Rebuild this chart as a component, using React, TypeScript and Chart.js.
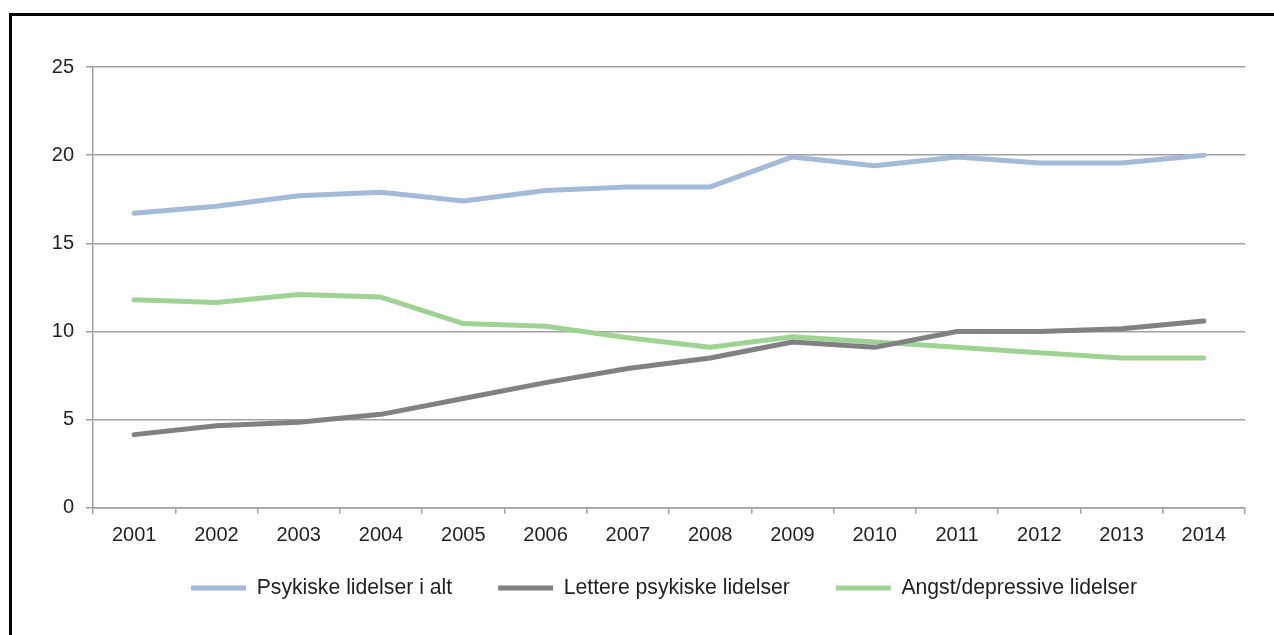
import React, { useEffect, useRef } from "react";
import { Chart, registerables } from "chart.js";

Chart.register(...registerables);

const years = ["2001", "2002", "2003", "2004", "2005", "2006", "2007", "2008", "2009", "2010", "2011", "2012", "2013", "2014"];
const psykiskeIAlt = [16.7, 17.1, 17.7, 17.9, 17.4, 18.0, 18.2, 18.2, 19.9, 19.4, 19.9, 19.55, 19.55, 20.0];
const lettere = [4.15, 4.65, 4.85, 5.3, 6.2, 7.1, 7.9, 8.5, 9.4, 9.1, 10.0, 10.0, 10.15, 10.6];
const angst = [11.8, 11.65, 12.1, 11.95, 10.45, 10.3, 9.65, 9.1, 9.7, 9.4, 9.1, 8.8, 8.5, 8.5];
const seriesNames = ["Psykiske lidelser i alt", "Lettere psykiske lidelser", "Angst/depressive lidelser"];
const seriesColors = ["#a3bbd9", "#808184", "#9fd393"];
const yMin = 0;
const yMax = 25;
const yStep = 5;

const FONT = "'Liberation Sans', Arial, sans-serif";

// Moves the legend box so it is centred like the original (spacing between items
// needs a wide label padding, which would otherwise push the plot upward).
const legendPlacer = {
  id: "legendPlacer",
  afterLayout(chart: any) {
    const lg = chart.legend;
    if (!lg) return;
    const h = lg.height;
    lg.left = 83;
    lg.right = 1245;
    lg.top = 531.5;
    lg.bottom = 531.5 + h;
  },
};

export default function App() {
  const ref = useRef<HTMLCanvasElement | null>(null);
  useEffect(() => {
    if (!ref.current) return;
    const data = [psykiskeIAlt, lettere, angst];
    const chart = new Chart(ref.current, {
      type: "line",
      data: {
        labels: years,
        datasets: data.map((d, i) => ({
          label: seriesNames[i],
          data: d,
          borderColor: seriesColors[i],
          backgroundColor: seriesColors[i],
          borderWidth: 5,
          borderCapStyle: "round",
          borderJoinStyle: "round",
          pointRadius: 0,
          pointHoverRadius: 0,
          tension: 0,
          fill: false,
        })),
      },
      plugins: [legendPlacer],
      options: {
        animation: false,
        responsive: false,
        maintainAspectRatio: false,
        layout: { padding: { left: 30, right: 29, top: 67, bottom: 0 } },
        plugins: {
          tooltip: { enabled: false },
          title: { display: false },
          legend: {
            position: "bottom",
            align: "center",
            labels: {
              usePointStyle: true,
              pointStyle: "line",
              pointStyleWidth: 55,
              padding: 46,
              color: "#231f20",
              font: { family: FONT, size: 21.2 },
            },
          },
        },
        scales: {
          x: {
            offset: true,
            grid: {
              offset: true,
              drawOnChartArea: false,
              drawTicks: true,
              tickLength: 6,
              color: "#a0a0a0",
              lineWidth: 1.5,
            },
            border: { display: true, color: "#a0a0a0", width: 1.5 },
            ticks: {
              padding: 10,
              color: "#231f20",
              font: { family: FONT, size: 20 },
              maxRotation: 0,
              autoSkip: false,
            },
          },
          y: {
            min: yMin,
            max: yMax,
            grid: {
              color: "#a0a0a0",
              lineWidth: 1.5,
              drawTicks: true,
              tickLength: 7,
            },
            border: { display: true, color: "#a0a0a0", width: 1.5 },
            ticks: {
              stepSize: yStep,
              padding: 12,
              color: "#231f20",
              font: { family: FONT, size: 20 },
            },
            afterFit: (s: any) => {
              s.width = 63;
            },
          },
        },
      },
    });
    return () => chart.destroy();
  }, []);

  return (
    <div style={{ position: "fixed", left: 0, top: 0, width: 1274, height: 635, overflow: "hidden", background: "#fff" }}>
      <canvas ref={ref} width={1274} height={635} style={{ position: "absolute", left: 0, top: 0, width: 1274, height: 635 }} />
      <div
        style={{
          position: "absolute",
          left: 9,
          top: 13,
          width: 1274,
          height: 635,
          borderLeft: "3px solid #000",
          borderTop: "3px solid #000",
          boxSizing: "border-box",
          pointerEvents: "none",
        }}
      />
    </div>
  );
}
